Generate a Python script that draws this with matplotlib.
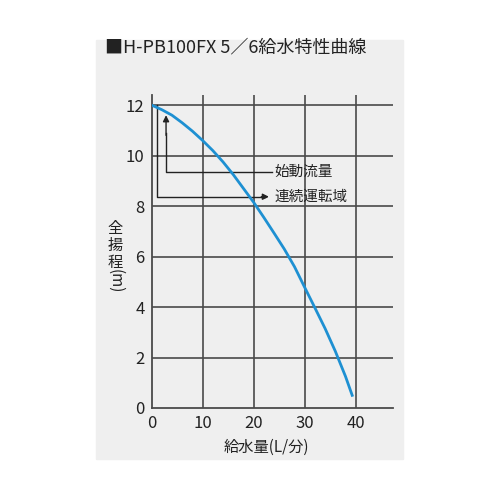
import matplotlib
matplotlib.use("Agg")
import matplotlib.pyplot as plt
from matplotlib.patches import Rectangle

plt.rcParams['font.family'] = ['Noto Sans CJK JP', 'DejaVu Sans']

# curve
flow = [0, 2, 4, 6, 8, 10, 12, 14, 16, 18, 20, 22, 24, 26, 28, 30, 32, 34, 36, 38, 39.4]
head = [12, 11.82, 11.6, 11.3, 10.97, 10.6, 10.2, 9.75, 9.25, 8.7, 8.15, 7.55,
        6.93, 6.3, 5.6, 4.78, 3.97, 3.15, 2.25, 1.25, 0.45]

x_ticks = [0, 10, 20, 30, 40]
y_ticks = [0, 2, 4, 6, 8, 10, 12]

title = "■H-PB100FX 5／6給水特性曲線"
x_label = "給水量(L/分)"
y_label = "全\n揚\n程"
start_label = "始動流量"
run_label = "連続運転域"

W, H = 500, 500
fig = plt.figure(figsize=(5, 5), dpi=100)
fig.patches.append(Rectangle((96 / W, 1 - 459 / H), 307 / W, 419 / H,
                             transform=fig.transFigure, color="#efefef", zorder=-10))

left, right, top, bottom = 151.5, 393, 95, 408
ax = fig.add_axes([left / W, 1 - bottom / H, (right - left) / W, (bottom - top) / H])
ax.set_facecolor("none")
ax.set_xlim(0, 47.3)
ax.set_ylim(0, 12.4)

grid_c = "#4a4a4a"
for y in y_ticks[1:]:
    ax.plot([0, 47.3], [y, y], color=grid_c, lw=1.2, zorder=1, solid_capstyle="butt")
for x in x_ticks[1:]:
    ax.plot([x, x], [0, 12.4], color=grid_c, lw=1.2, zorder=1, solid_capstyle="butt")

for s in ["top", "right"]:
    ax.spines[s].set_visible(False)
for s in ["left", "bottom"]:
    ax.spines[s].set_color(grid_c)
    ax.spines[s].set_linewidth(1.3)

ax.set_xticks(x_ticks)
ax.set_yticks(y_ticks)
ax.tick_params(length=0, labelsize=12, colors="#222222")
ax.tick_params(axis="x", pad=5)
ax.tick_params(axis="y", pad=5)

# annotation lines
ax.plot([1.1, 1.1, 22.3], [12, 8.37, 8.37], color="#222222", lw=1.0, zorder=2)
ax.annotate("", xy=(23.0, 8.37), xytext=(21.5, 8.37),
            arrowprops=dict(arrowstyle="-|>", color="#222222", lw=1.0,
                            mutation_scale=9, shrinkA=0, shrinkB=0))
ax.plot([23.6, 2.85, 2.85], [9.36, 9.36, 10.9], color="#222222", lw=1.0, zorder=2)
ax.annotate("", xy=(2.85, 11.6), xytext=(2.85, 10.8),
            arrowprops=dict(arrowstyle="-|>", color="#222222", lw=1.0,
                            mutation_scale=9, shrinkA=0, shrinkB=0))
ax.text(24.1, 9.36, start_label, fontsize=10.5, va="center", ha="left", color="#222222")
ax.text(24.1, 8.37, run_label, fontsize=10.5, va="center", ha="left", color="#222222")

ax.plot(flow, head, color="#1e90d2", lw=2.0, zorder=3, solid_capstyle="butt")

fig.text(105 / W, 1 - 47 / H, title, fontsize=13, va="center", ha="left", color="#222222")
fig.text(266 / W, 1 - 447 / H, x_label, fontsize=11, va="center", ha="center", color="#222222")
fig.text(115 / W, 1 - 245 / H, y_label, fontsize=11, va="center", ha="center",
         linespacing=1.0, color="#222222")
fig.text(115 / W, 1 - 281 / H, "(m)", fontsize=11, va="center", ha="center",
         rotation=270, color="#222222")

fig.savefig("out.png", dpi=100)
